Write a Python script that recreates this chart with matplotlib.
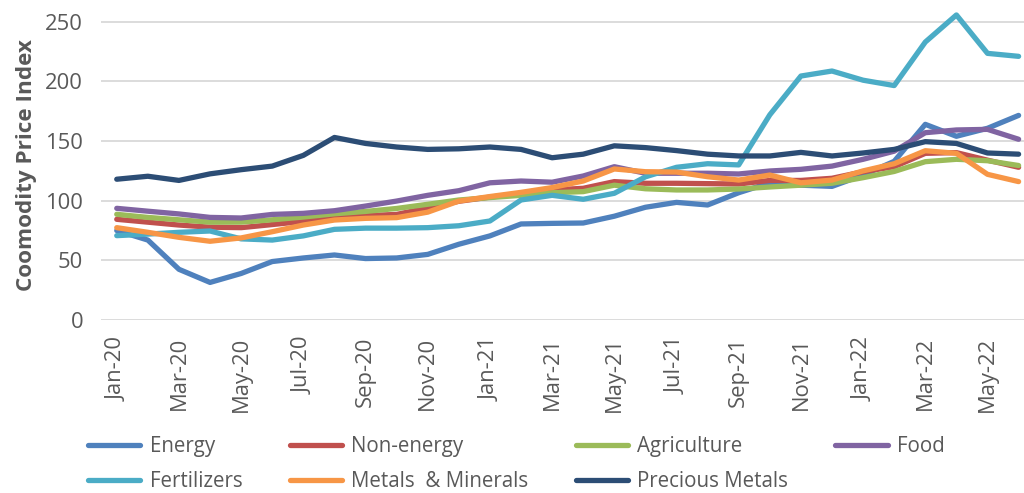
import matplotlib
matplotlib.use("Agg")
import matplotlib.pyplot as plt
import numpy as np

months = ["Jan-20", "Feb-20", "Mar-20", "Apr-20", "May-20", "Jun-20", "Jul-20", "Aug-20",
          "Sep-20", "Oct-20", "Nov-20", "Dec-20", "Jan-21", "Feb-21", "Mar-21", "Apr-21",
          "May-21", "Jun-21", "Jul-21", "Aug-21", "Sep-21", "Oct-21", "Nov-21", "Dec-21",
          "Jan-22", "Feb-22", "Mar-22", "Apr-22", "May-22", "Jun-22"]

energy = [75, 67, 42.5, 31.5, 39, 49, 52, 54.5, 51.5, 52, 55, 63.5, 70.5, 80.5, 81,
          81.3, 87, 94.5, 98.6, 96.4, 106.7, 115, 113, 112, 121.5, 133, 164, 154, 160.7, 171.5]
non_energy = [84.4, 82, 79.6, 77.8, 77.4, 80, 82.7, 85.5, 87.5, 88.5, 94, 99.5, 103, 106, 109,
              110.4, 116, 114.6, 114.6, 114.3, 114, 117, 117, 118.8, 124.3, 128.5, 139.7, 140.3, 134, 128]
agriculture = [88.6, 86, 84, 82, 82, 84, 86.3, 89, 91, 93.5, 97, 100.6, 102.6, 104.5, 106.7,
               107.6, 113, 110, 109, 109, 109.8, 111.5, 113, 114.6, 119.3, 124.5, 132.7, 134.7, 133.5, 129.5]
food = [93.6, 91.2, 88.9, 86, 85.5, 88.5, 89.4, 91.6, 95.5, 99.7, 104.5, 108.4, 115, 116.5, 115.5,
        120.7, 128.5, 123, 123, 123, 122.4, 124.9, 126.3, 129, 134.7, 141.5, 157, 159.3, 159.8, 151.5]
fertilizers = [70.7, 72, 73.5, 74.6, 68, 67, 70.5, 76, 77, 77, 77.4, 79, 83, 100.6, 104.5,
               101.2, 106.2, 120, 128, 131, 130, 172, 204.5, 208.7, 201, 196.5, 233, 255.7, 223.5, 221]
metals = [77.4, 73.5, 69.3, 66, 68.8, 74, 79.6, 83.8, 85.2, 85.8, 90.4, 99.7, 103.5, 107, 111,
          116.5, 126.6, 124.3, 124, 120.1, 117.3, 121.5, 115, 117.3, 125, 131, 141.9, 139.7, 122.1, 116]
precious = [118, 120.5, 117, 122.5, 126, 129, 138, 153, 148, 145, 143, 143.5, 145, 143, 136,
            139, 146, 144.5, 142, 139, 137.5, 137.5, 140.5, 137.5, 140, 143, 149.5, 148, 140, 139]

series_names = ["Energy", "Non-energy", "Agriculture", "Food", "Fertilizers",
                "Metals  & Minerals", "Precious Metals"]
series_values = [energy, non_energy, agriculture, food, fertilizers, metals, precious]
colors = ["#4F81BD", "#C0504D", "#9BBB59", "#8064A2", "#4BACC6", "#F79646", "#2C4D75"]

plt.rcParams["font.family"] = ["Open Sans", "DejaVu Sans"]
TXT = "#595959"

fig = plt.figure(figsize=(10.24, 4.93), dpi=100)
ax = fig.add_axes([101.2 / 1024, 173 / 493, 1 - 101.2 / 1024, 320 / 493])

x = np.arange(len(months))
handles = []
for name, vals, c in zip(series_names, series_values, colors):
    h, = ax.plot(x, vals, color=c, lw=3.8, solid_capstyle="round",
                 solid_joinstyle="round", label=name, clip_on=False, zorder=3)
    handles.append(h)

ax.set_xlim(-0.5, (1024 - 116.7) / 31.1)
ax.set_ylim(0, 320 / 1.193)
ax.set_yticks([0, 50, 100, 150, 200, 250])
ax.set_xticks(x[::2])
ax.set_xticklabels(months[::2], rotation=90)
ax.grid(axis="y", color="#D9D9D9", lw=1.3)
ax.set_axisbelow(True)
for s in ax.spines.values():
    s.set_visible(False)
ax.tick_params(axis="both", length=0, colors=TXT, labelsize=15.8)
ax.tick_params(axis="y", pad=13)
ax.tick_params(axis="x", pad=12)

fig.text(27 / 1024, 1 - 165 / 493, "Coomodity Price Index", rotation=90,
         ha="center", va="center", fontsize=16.2, fontweight="bold", color=TXT)

order = [0, 4, 1, 5, 2, 6, 3]
leg = fig.legend([handles[i] for i in order], [series_names[i] for i in order],
                 ncol=4, loc="center left", bbox_to_anchor=(88 / 1024, 1 - 464 / 493),
                 frameon=False, fontsize=14.8, handlelength=2.55, handletextpad=0.45,
                 columnspacing=2.3, labelspacing=0.68, borderpad=0, borderaxespad=0)
for t in leg.get_texts():
    t.set_color(TXT)

fig.savefig("out.png", dpi=100)
